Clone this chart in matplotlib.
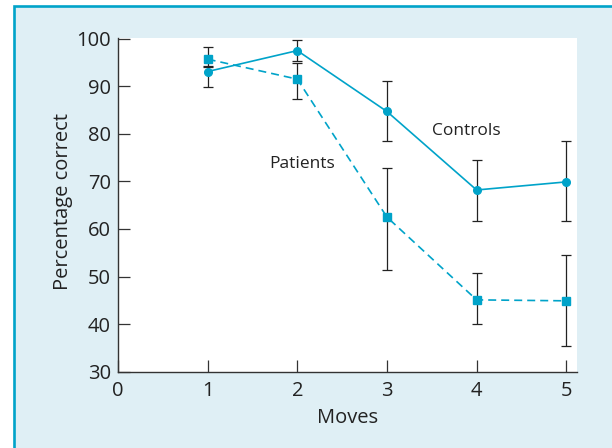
import matplotlib
matplotlib.use("Agg")
import matplotlib.pyplot as plt
from matplotlib.patches import Rectangle

plt.rcParams['font.family'] = ['Open Sans', 'DejaVu Sans']

# Data
moves = [1, 2, 3, 4, 5]
controls = [93.1, 97.5, 84.7, 68.2, 69.9]
controls_low = [89.9, 95.4, 78.6, 61.7, 61.6]
controls_high = [94.1, 99.7, 91.2, 74.6, 78.5]
patients = [95.7, 91.5, 62.5, 45.1, 44.9]
patients_low = [94.3, 87.3, 51.3, 40.0, 35.5]
patients_high = [98.2, 94.8, 72.9, 50.7, 54.5]
xticks = [0, 1, 2, 3, 4, 5]
yticks = [30, 40, 50, 60, 70, 80, 90, 100]

cyan = '#00a3c9'
panel_bg = '#dfeff5'
ink = '#222222'

fig = plt.figure(figsize=(6.12, 4.48), dpi=100)
fig.patch.set_facecolor('white')

# Shaded panel with cyan border on the left and top
panel = Rectangle((14 / 612, -0.1), 1.2, 1 - 6 / 448 + 0.1,
                  transform=fig.transFigure, facecolor=panel_bg,
                  edgecolor=cyan, linewidth=1.9, zorder=0)
fig.add_artist(panel)

ax = fig.add_axes([118 / 612, 76.3 / 448, (577 - 118) / 612, (410 - 76.3) / 448])
ax.set_facecolor('white')

def errs(vals, lo, hi):
    return [[v - l for v, l in zip(vals, lo)], [h - v for v, h in zip(vals, hi)]]

ax.errorbar(moves, controls, yerr=errs(controls, controls_low, controls_high),
            fmt='none', ecolor=ink, elinewidth=0.9, capsize=3.5,
            capthick=0.9, zorder=2)
ax.errorbar(moves, patients, yerr=errs(patients, patients_low, patients_high),
            fmt='none', ecolor=ink, elinewidth=0.9, capsize=3.5,
            capthick=0.9, zorder=2)

ax.plot(moves, controls, color=cyan, linewidth=1.2, marker='o',
        markersize=5.5, zorder=3)
ax.plot(moves, patients, color=cyan, linewidth=1.2, linestyle=(0, (4.8, 3.0)),
        marker='s', markersize=5.5, zorder=3)

ax.text(3.88, 80.5, 'Controls', fontsize=12.5, color=ink,
        ha='center', va='center')
ax.text(2.05, 73.7, 'Patients', fontsize=12.5, color=ink,
        ha='center', va='center')

ax.set_xlim(0, 5.12)
ax.set_ylim(30, 100.15)
ax.set_xticks(xticks)
ax.set_yticks(yticks)
ax.tick_params(direction='in', length=8.5, width=0.9, color='#333333',
               labelsize=14.5, labelcolor=ink)
ax.tick_params(axis='x', pad=7)
ax.tick_params(axis='y', pad=5)

for side in ('top', 'right'):
    ax.spines[side].set_visible(False)
for side in ('left', 'bottom'):
    ax.spines[side].set_color('#333333')
    ax.spines[side].set_linewidth(1.0)

ax.set_xlabel('Moves', fontsize=14.5, color=ink, labelpad=5)
ax.set_ylabel('Percentage correct', fontsize=14.5, color=ink)
ax.yaxis.set_label_coords(-0.097, 0.51)

fig.savefig('out.png', dpi=100)
